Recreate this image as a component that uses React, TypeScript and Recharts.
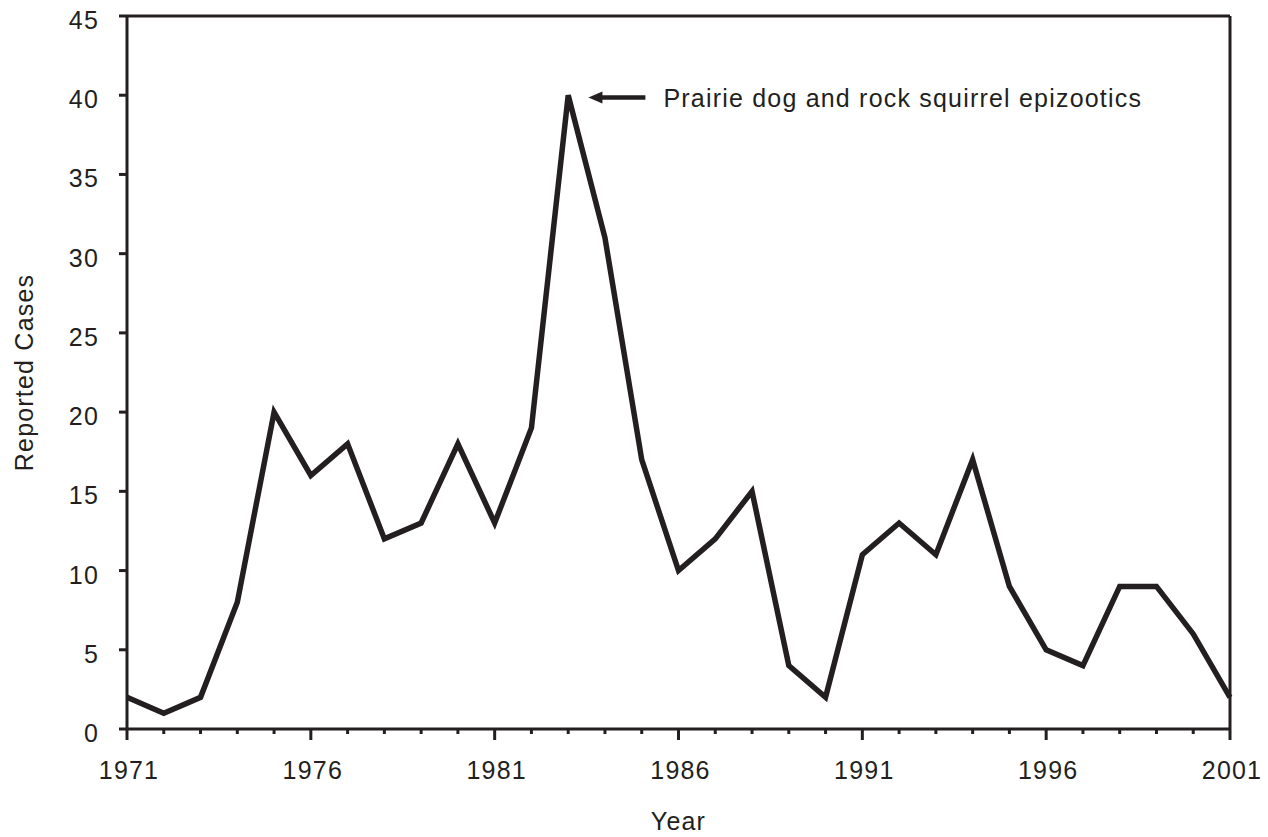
import React from 'react';
import { LineChart, Line, XAxis, YAxis, ReferenceLine } from 'recharts';

const years = [
  1971, 1972, 1973, 1974, 1975, 1976, 1977, 1978, 1979, 1980, 1981, 1982, 1983, 1984, 1985, 1986,
  1987, 1988, 1989, 1990, 1991, 1992, 1993, 1994, 1995, 1996, 1997, 1998, 1999, 2000, 2001,
];
const cases = [
  2, 1, 2, 8, 20, 16, 18, 12, 13, 18, 13, 19, 40, 31, 17, 10,
  12, 15, 4, 2, 11, 13, 11, 17, 9, 5, 4, 9, 9, 6, 2,
];
const labeledYears = [1971, 1976, 1981, 1986, 1991, 1996, 2001];
const yTicks = [0, 5, 10, 15, 20, 25, 30, 35, 40, 45];
const annotationText = 'Prairie dog and rock squirrel epizootics';
const annotationYear = 1983;
const annotationValue = 40;

const data = years.map((year, i) => ({ year, cases: cases[i] }));

const ink = '#231f20';
const font = '"Liberation Sans", Arial, Helvetica, sans-serif';
const textStyle = { fill: ink, fontSize: 25, fontFamily: font, letterSpacing: 1.2 };

// bottom axis: long tick + label every 5 years, short tick every year
const XTick = (props: any) => {
  const { x, y, payload } = props;
  const major = labeledYears.includes(payload.value);
  return (
    <g>
      <line x1={x} x2={x} y1={y} y2={y + (major ? 11 : 5)} stroke={ink} strokeWidth={3} />
      {major && (
        <text x={x + 2} y={y + 50} textAnchor="middle" {...textStyle}>
          {payload.value}
        </text>
      )}
    </g>
  );
};

const YTick = (props: any) => {
  const { x, y, payload } = props;
  return (
    <text x={x} y={y} dy={13} textAnchor="end" {...textStyle}>
      {payload.value}
    </text>
  );
};

const ArrowNote = (props: any) => {
  const { x1, y1, x2 } = props;
  const tipX = Math.min(x1, x2);
  const tailX = Math.max(x1, x2);
  return (
    <g>
      <line x1={tailX} x2={tipX + 10} y1={y1} y2={y1} stroke={ink} strokeWidth={4.5} />
      <polygon points={`${tipX},${y1} ${tipX + 14},${y1 - 6} ${tipX + 14},${y1 + 6}`} fill={ink} />
      <text x={tailX + 18} y={y1 + 9} {...textStyle}>
        {annotationText}
      </text>
    </g>
  );
};

export default function App() {
  return (
    <div style={{ position: 'absolute', left: 0, top: 0, background: '#fff' }}>
      <LineChart width={1268} height={837} data={data} margin={{ top: 16, right: 38, bottom: 0, left: 0 }}>
        <XAxis
          dataKey="year"
          type="number"
          domain={[1971, 2001]}
          ticks={years}
          interval={0}
          height={108}
          tickSize={0}
          tickMargin={0}
          tickLine={false}
          axisLine={{ stroke: ink, strokeWidth: 3 }}
          tick={<XTick />}
          label={(p: any) => {
            const vb = p.viewBox;
            return (
              <text x={vb.x + vb.width / 2} y={830} textAnchor="middle" {...textStyle}>
                Year
              </text>
            );
          }}
        />
        <YAxis
          type="number"
          domain={[0, 45]}
          ticks={yTicks}
          interval={0}
          width={127}
          tickSize={8}
          tickMargin={20}
          tickLine={{ stroke: ink, strokeWidth: 3 }}
          axisLine={{ stroke: ink, strokeWidth: 3 }}
          tick={<YTick />}
          label={(p: any) => {
            const vb = p.viewBox;
            const cy = vb.y + vb.height / 2;
            return (
              <text x={33} y={cy} transform={`rotate(-90, 33, ${cy})`} textAnchor="middle" {...textStyle}>
                Reported Cases
              </text>
            );
          }}
        />
        <ReferenceLine y={45} stroke={ink} strokeWidth={3} />
        <ReferenceLine x={2001} stroke={ink} strokeWidth={3} />
        <Line
          type="linear"
          dataKey="cases"
          stroke={ink}
          strokeWidth={5.5}
          strokeLinejoin="miter"
          dot={false}
          isAnimationActive={false}
        />
        <ReferenceLine
          segment={[
            { x: annotationYear + 2.1, y: annotationValue - 0.15 },
            { x: annotationYear + 0.55, y: annotationValue - 0.15 },
          ]}
          shape={<ArrowNote />}
        />
      </LineChart>
    </div>
  );
}
